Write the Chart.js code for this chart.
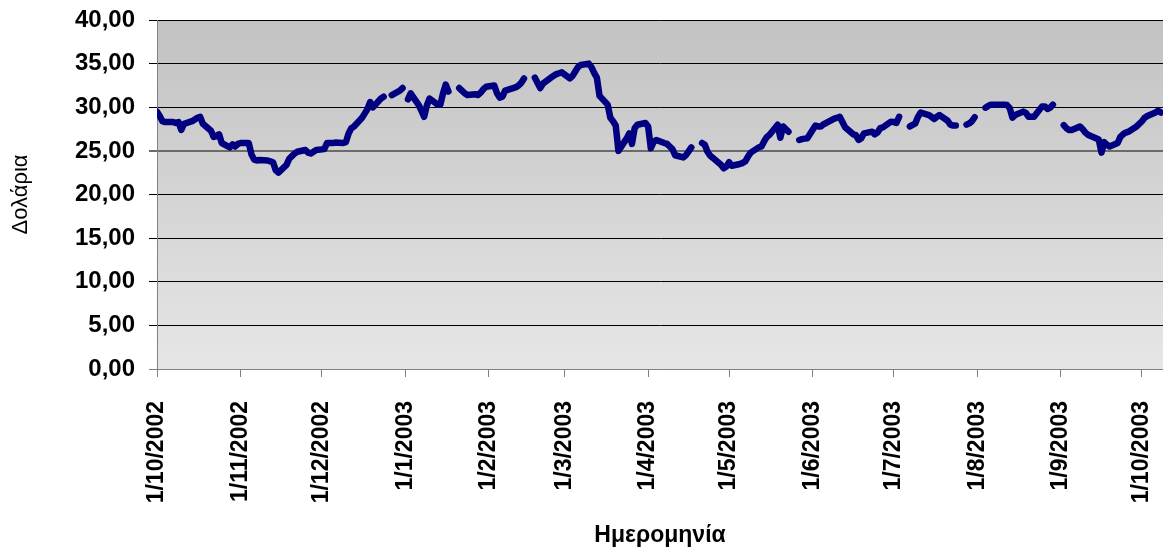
<!DOCTYPE html>
<html lang="el">
<head>
<meta charset="UTF-8">
<title>Τιμή - Δολάρια ανά ημερομηνία</title>
<script src="https://cdn.jsdelivr.net/npm/chart.js"></script>
<style>
  html, body { margin: 0; padding: 0; background: #fff; }
  #wrap { width: 1163px; height: 549px; }
</style>
</head>
<body>
<div id="wrap"><canvas id="priceChart" width="1163" height="549"></canvas></div>
<script>
// one value per weekday of the month, in order (null = no quote that day)
const oct2002 = [29.5, 29.0, 28.4, 28.3, 28.3, 28.2, 28.3, 27.4, 28.1, 28.4, 28.6, 28.8, 28.9, 28.1,
                 27.3, 26.6, 26.7, 26.9, 25.9, 25.4, 25.75, 25.5, 25.8];
const nov2002 = [25.9, 25.9, 24.6, 24.0, 23.9, 23.95, 23.9, 23.8, 23.7, 22.8, 22.5, 23.4, 24.1, 24.4,
                 24.7, 24.9, 25.1, 24.8, 24.7, 24.9, 25.1];
const dec2002 = [25.2, 25.9, 25.9, 25.9, 25.95, 25.9, 26.0, 27.0, 27.6, 27.8, 28.8, 29.3, 29.8, 30.6,
                 30.0, 31.0, 31.2, null, null, 31.4, 31.9, 32.2];
const jan2003 = [null, 30.9, 31.6, 30.25, 29.6, 28.9, 30.2, 31.0, 30.3, 30.3, 31.6, 32.6, 31.8, null,
                 32.2, 31.9, 31.6, 31.4, 31.5, 31.4, 31.7, 32.1, 32.35];
const feb2003 = [32.5, 31.6, 31.1, 31.2, 31.9, 32.2, 32.3, 32.5, 32.8, 33.3, null, 33.4, 32.8, 32.2,
                 32.7, 33.4, 33.6, 33.8, 33.9, 34.0];
const mar2003 = [33.3, 33.6, 34.1, 34.6, 34.85, 35.0, 34.6, 33.95, 33.4, 31.3, 30.3, 28.8, 28.4, 27.9,
                 25.0, 26.4, 27.0, 25.8, 27.6, 28.0, 28.2];
const apr2003 = [27.8, 25.3, 26.0, 26.25, 25.9, 25.8, 25.5, 25.2, 24.5, 24.25, 24.5, 24.95, 25.4, null,
                 25.9, 25.7, 24.9, 24.45, 24.2, 23.4, 23.0, 23.2];
const may2003 = [23.7, 23.3, 23.5, 23.6, 23.8, 24.35, 24.8, 25.4, 25.5, 26.1, 26.6, 26.85, 28.0, 26.5,
                 27.8, 27.5, 27.2, null, 26.25, 26.35, 26.4, 26.45];
const jun2003 = [27.9, 27.8, 27.8, 28.05, 28.2, 28.7, 28.8, 28.9, 28.3, 27.7, 26.9, 26.8, 26.25, 26.45,
                 27.0, 27.2, 26.9, 27.1, 27.6, 27.7, 28.35];
const jul2003 = [28.3, 28.2, 28.9, null, 27.8, 27.97, 28.15, 28.9, 29.4, 29.1, 28.9, 28.65, 28.9, 29.1,
                 28.45, 28.0, 27.9, 27.9, null, 28.0, 28.15, 28.4, 28.85];
const aug2003 = [null, 29.95, 30.15, 30.3, 30.3, 30.3, 30.3, 30.25, 29.9, 28.8, 29.1, 29.5, 29.35, 28.9,
                 28.9, 28.9, 30.1, 30.1, 29.8, 29.95, 30.3];
const sep2003 = [null, 27.95, 27.6, 27.4, 27.4, 27.8, 27.5, 27.1, 26.85, 26.7, 26.3, 24.8, 26.0, 25.7,
                 25.5, 25.9, 26.6, 26.9, 27.1, 27.2, 27.8, 28.1];
const oct2003 = [28.4, 28.8, 29.0, 29.4, 29.6, 29.4];

const monthTicks = ['1/10/2002', '1/11/2002', '1/12/2002', '1/1/2003', '1/2/2003', '1/3/2003', '1/4/2003',
                    '1/5/2003', '1/6/2003', '1/7/2003', '1/8/2003', '1/9/2003', '1/10/2003'];

const months = [
    [2002, 9, oct2002], [2002, 10, nov2002], [2002, 11, dec2002],
    [2003, 0, jan2003], [2003, 1, feb2003], [2003, 2, mar2003], [2003, 3, apr2003],
    [2003, 4, may2003], [2003, 5, jun2003], [2003, 6, jul2003], [2003, 7, aug2003],
    [2003, 8, sep2003], [2003, 9, oct2003]
];

const START = Date.UTC(2002, 9, 1);
const DAY = 86400000;

function dayIndex(y, m, d) {
    return Math.round((Date.UTC(y, m, d) - START) / DAY);
}

// put each value on its calendar weekday
const points = [];
months.forEach(([y, m, values]) => {
    let i = 0;
    for (let d = 1; i < values.length; d++) {
        const wd = new Date(Date.UTC(y, m, d)).getUTCDay();
        if (wd === 0 || wd === 6) continue;
        points.push({ x: dayIndex(y, m, d), y: values[i] });
        i++;
    }
});

const tickDays = monthTicks.map(s => {
    const [d, m, y] = s.split('/').map(Number);
    return dayIndex(y, m - 1, d);
});

const FONT = "Arial, 'Liberation Sans', sans-serif";

// grey gradient behind the plot
const plotBackground = {
    id: 'plotBackground',
    beforeDraw(chart) {
        const { ctx, chartArea: a } = chart;
        const g = ctx.createLinearGradient(0, a.top, 0, a.bottom);
        g.addColorStop(0, '#c2c2c2');
        g.addColorStop(1, '#e6e6e6');
        ctx.save();
        ctx.fillStyle = g;
        ctx.fillRect(a.left, a.top, a.right - a.left, a.bottom - a.top);
        ctx.restore();
    }
};

new Chart(document.getElementById('priceChart'), {
    type: 'line',
    data: {
        datasets: [{
            data: points,
            borderColor: '#000080',
            borderWidth: 6.5,
            borderCapStyle: 'round',
            borderJoinStyle: 'round',
            pointRadius: 0,
            tension: 0,
            spanGaps: false
        }]
    },
    options: {
        responsive: false,
        animation: false,
        devicePixelRatio: 1,
        layout: { padding: { top: 20, right: 0, bottom: 0, left: 0 } },
        plugins: {
            legend: { display: false },
            tooltip: { enabled: false }
        },
        scales: {
            x: {
                type: 'linear',
                min: 0,
                max: 372.8,
                afterBuildTicks: scale => { scale.ticks = tickDays.map(v => ({ value: v })); },
                afterFit: scale => {
                    scale.height = 180;
                    scale.paddingLeft = 0;
                    scale.paddingRight = 0;
                },
                grid: { drawOnChartArea: false, color: '#808080', tickLength: 8 },
                border: { color: '#808080' },
                ticks: {
                    autoSkip: false,
                    minRotation: 90,
                    maxRotation: 90,
                    padding: 24,
                    color: '#000',
                    font: { family: FONT, size: 23, weight: 'bold' },
                    callback: (v, i) => monthTicks[i]
                },
                title: {
                    display: true,
                    text: 'Ημερομηνία',
                    color: '#000',
                    font: { family: FONT, size: 23, weight: 'bold' },
                    padding: { top: 0, bottom: 0 }
                }
            },
            y: {
                min: 0,
                max: 40,
                afterFit: scale => {
                    scale.width = 157;
                    scale.paddingTop = 0;
                    scale.paddingBottom = 0;
                },
                grid: {
                    color: c => c.tick.value === 0 ? '#808080' : (c.tick.value === 25 ? '#6b6b6b' : '#000'),
                    lineWidth: c => c.tick.value === 25 ? 2 : 1,
                    tickLength: 8
                },
                border: { color: '#808080' },
                ticks: {
                    stepSize: 5,
                    padding: 14,
                    color: '#000',
                    font: { family: FONT, size: 24, weight: 'bold' },
                    callback: v => v.toFixed(2).replace('.', ',')
                },
                title: {
                    display: true,
                    text: 'Δολάρια',
                    color: '#000',
                    font: { family: FONT, size: 22 },
                    padding: { top: 8, bottom: 0 }
                }
            }
        }
    },
    plugins: [plotBackground]
});
</script>
</body>
</html>
